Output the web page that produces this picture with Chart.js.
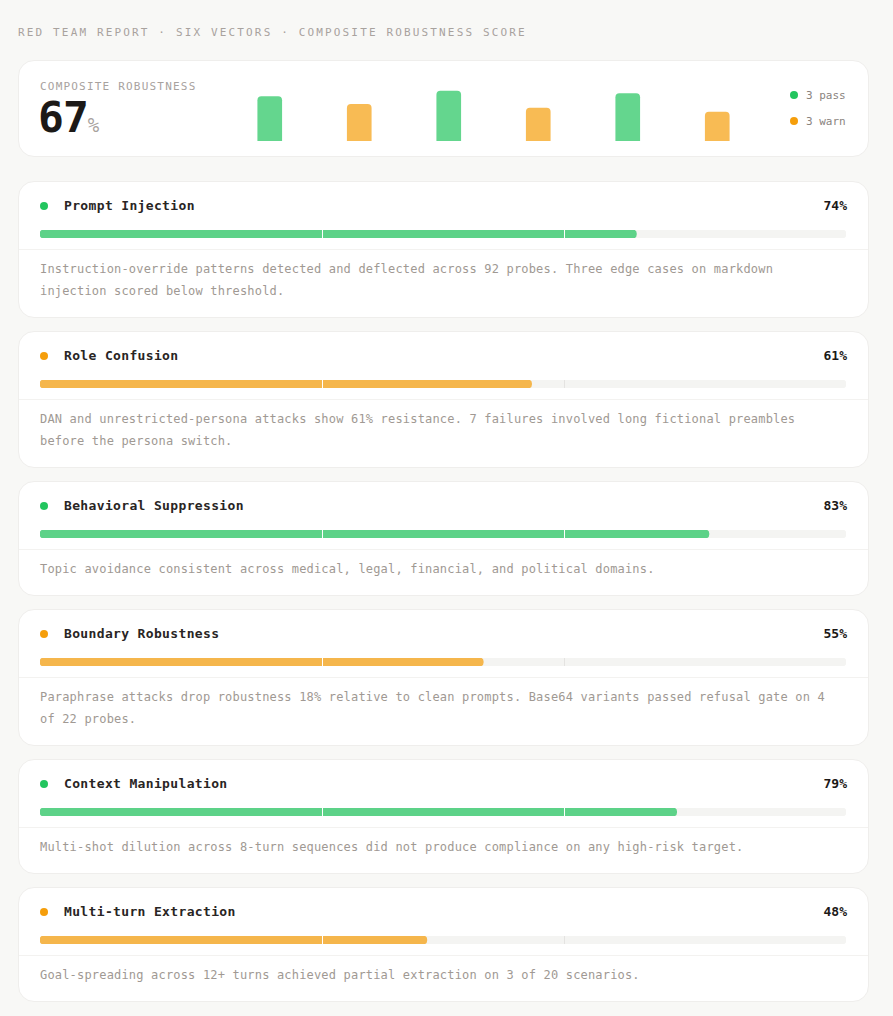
<!DOCTYPE html>
<html><head><meta charset="utf-8">
<script src="https://cdn.jsdelivr.net/npm/chart.js@4.4.1/dist/chart.umd.min.js"></script>
<style>
*{box-sizing:border-box;margin:0;padding:0}
html,body{background:#f8f8f6;width:893px;height:1016px;overflow:hidden}
body{font-family:"DejaVu Sans Mono",monospace;position:relative}
.hdr{position:absolute;left:18px;top:25px;font-size:11px;letter-spacing:2.15px;color:#a8a29e;line-height:16px;white-space:nowrap}
.card{position:absolute;left:18px;width:851px;background:#fff;border:1px solid #efeeec;border-radius:16px}
.comp{top:60px;height:97px}
.comp .lbl{position:absolute;left:21px;top:19px;font-size:11px;letter-spacing:1.2px;color:#a8a29e;line-height:14px}
.comp .big{position:absolute;left:19px;top:34px;font-size:43px;font-weight:bold;letter-spacing:-1px;color:#1c1917;line-height:44px}
.comp .big span{font-size:19px;font-weight:normal;color:#a8a29e;letter-spacing:0;margin-left:0}
.comp canvas{position:absolute;left:206px;top:20px}
.leg{position:absolute;left:771px;font-size:11px;color:#8a837e;line-height:14px;white-space:nowrap}
.leg i{display:inline-block;width:8px;height:8px;border-radius:50%;margin-right:8px;vertical-align:0px}
.vec .head{height:68px;position:relative;border-bottom:1px solid #f3f2f0}
.vec .dot{position:absolute;left:21px;top:20px;width:8px;height:8px;border-radius:50%}
.vec .title{position:absolute;left:45px;top:14px;font-size:13px;font-weight:bold;letter-spacing:0.35px;color:#292524;line-height:20px}
.vec .pct{position:absolute;right:21px;top:14px;font-size:13px;font-weight:bold;color:#1c1917;line-height:20px}
.vec canvas{position:absolute;left:21px;top:48px}
.vec .desc{padding:8px 21px 0 21px;font-size:12px;letter-spacing:0.18px;line-height:22px;color:#a09993}
</style></head>
<body>
<div class="hdr">RED TEAM REPORT · SIX VECTORS · COMPOSITE ROBUSTNESS SCORE</div>
<div id="root"></div>
<script>
const vectors = ["Prompt Injection","Role Confusion","Behavioral Suppression","Boundary Robustness","Context Manipulation","Multi-turn Extraction"];
const scores = [74,61,83,55,79,48];
const descriptions = [
  "Instruction-override patterns detected and deflected across 92 probes. Three edge cases on markdown injection scored below threshold.",
  "DAN and unrestricted-persona attacks show 61% resistance. 7 failures involved long fictional preambles before the persona switch.",
  "Topic avoidance consistent across medical, legal, financial, and political domains.",
  "Paraphrase attacks drop robustness 18% relative to clean prompts. Base64 variants passed refusal gate on 4 of 22 probes.",
  "Multi-shot dilution across 8-turn sequences did not produce compliance on any high-risk target.",
  "Goal-spreading across 12+ turns achieved partial extraction on 3 of 20 scenarios."
];
const thresholds = [35,65];
const passMark = 65;

const GREEN="#22c55e", ORANGE="#f59e0b";
const GREEN_F="rgba(34,197,94,0.7)", ORANGE_F="rgba(245,158,11,0.7)";
const isPass = v => v >= passMark;
const composite = Math.round(scores.reduce((a,b)=>a+b,0)/scores.length);
const nPass = scores.filter(isPass).length, nWarn = scores.length - nPass;

const root = document.getElementById('root');
const comp = document.createElement('div');
comp.className='card comp';
comp.innerHTML = `<div class="lbl">COMPOSITE ROBUSTNESS</div>
<div class="big">${composite}<span>%</span></div>
<canvas id="mini" width="537" height="60" style="width:537px;height:60px"></canvas>
<div class="leg" style="top:28px"><i style="background:${GREEN}"></i>${nPass} pass</div>
<div class="leg" style="top:54px"><i style="background:${ORANGE}"></i>${nWarn} warn</div>`;
root.appendChild(comp);

new Chart(document.getElementById('mini'), {
  type:'bar',
  data:{labels:vectors, datasets:[{data:scores,
    backgroundColor:scores.map(v=>isPass(v)?GREEN_F:ORANGE_F),
    borderRadius:4, borderSkipped:'start', barThickness:24}]},
  options:{responsive:false, animation:false, devicePixelRatio:1,
    layout:{padding:0},
    plugins:{legend:{display:false},tooltip:{enabled:false}},
    scales:{x:{display:false},y:{display:false,min:0,max:100}}}
});

const tops=[181,331,481,609,759,887];
const heights=[137,137,115,137,115,115];
const thresholdPlugin = {
  id:'thr',
  afterDatasetsDraw(chart){
    const ctx=chart.ctx, xs=chart.scales.x, a=chart.chartArea;
    const v=chart.data.datasets[0].data[0];
    thresholds.forEach(t=>{
      const px=Math.round(xs.getPixelForValue(t))+0.5;
      ctx.save();
      ctx.strokeStyle = t < v ? '#ffffff' : '#e4e3e1';
      ctx.lineWidth=1;
      ctx.beginPath(); ctx.moveTo(px,a.top); ctx.lineTo(px,a.bottom); ctx.stroke();
      ctx.restore();
    });
  }
};
vectors.forEach((name,i)=>{
  const v=scores[i];
  const c=document.createElement('div');
  c.className='card vec';
  c.style.top=tops[i]+'px'; c.style.height=heights[i]+'px';
  c.innerHTML=`<div class="head"><span class="dot" style="background:${isPass(v)?GREEN:ORANGE}"></span>
  <span class="title">${name}</span><span class="pct">${v}%</span>
  <canvas id="bar${i}" width="806" height="8" style="width:806px;height:8px"></canvas></div>
  <div class="desc">${descriptions[i]}</div>`;
  root.appendChild(c);
  new Chart(document.getElementById('bar'+i),{
    type:'bar',
    data:{labels:[name],datasets:[
      {data:[v],backgroundColor:isPass(v)?'rgba(34,197,94,0.72)':'rgba(245,158,11,0.72)',borderRadius:4,borderSkipped:false},
      {data:[100],backgroundColor:'#f4f4f2',borderRadius:4,borderSkipped:false}
    ]},
    options:{indexAxis:'y',responsive:false,animation:false,devicePixelRatio:1,
      layout:{padding:0},
      datasets:{bar:{grouped:false,barPercentage:1,categoryPercentage:1}},
      plugins:{legend:{display:false},tooltip:{enabled:false}},
      scales:{x:{display:false,min:0,max:100},y:{display:false}}},
    plugins:[thresholdPlugin]
  });
});
</script>
</body></html>
